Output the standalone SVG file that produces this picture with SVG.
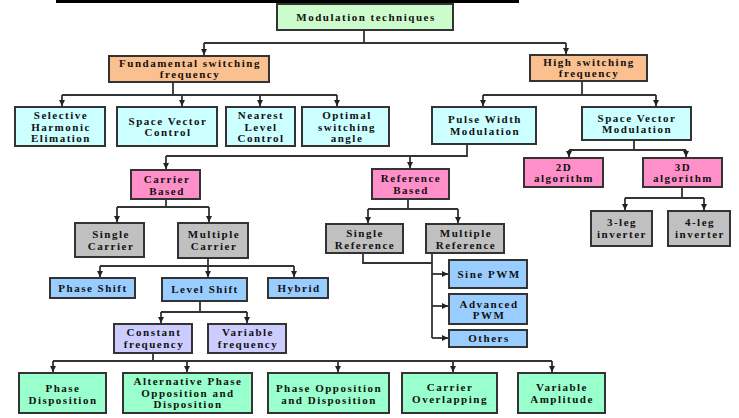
<svg xmlns="http://www.w3.org/2000/svg" width="739" height="418" viewBox="0 0 739 418">
<defs>
<marker id="ah" markerUnits="userSpaceOnUse" markerWidth="7" markerHeight="7" refX="6" refY="3" orient="auto">
<path d="M0,0 L6,3 L0,6 z" fill="#222"/>
</marker>
<style>
.b{stroke:#333;stroke-width:2}
.g{fill:#ccfccc}.o{fill:#fac090}.c{fill:#ccffff}.p{fill:#ff8fc8}.s{fill:#c0c0c0}.l{fill:#99ccff}.v{fill:#ccccff}.m{fill:#99ffcc}
text{font-family:"Liberation Serif","Times New Roman",serif;font-weight:bold;font-size:11px;letter-spacing:1.5px;text-anchor:middle;fill:#111}
.k path{fill:none;stroke:#333;stroke-width:1.8}
.k .a{marker-end:url(#ah)}
</style>
</defs>
<rect width="739" height="418" fill="#fff"/>
<rect x="56" y="0" width="463" height="3" fill="#000"/>
<g class="k" id="connectors">
<path d="M364,30 V43 M204,43 H566"/>
<path class="a" d="M204,43 V55"/><path class="a" d="M566,43 V54"/>
<path d="M173,82 V95 M62,95 H337"/>
<path class="a" d="M62,95 V106"/><path class="a" d="M182,95 V106"/><path class="a" d="M260,95 V106"/><path class="a" d="M337,95 V106"/>
<path d="M582,81 V95 M483,95 H656"/>
<path class="a" d="M483,95 V106"/><path class="a" d="M656,95 V106"/>
<path d="M467,144 V156 H166"/>
<path class="a" d="M166,156 V169"/><path class="a" d="M410,156 V168"/>
<path d="M634,140 V150 M569,150 H686"/>
<path class="a" d="M569,150 V157"/><path class="a" d="M686,150 V157"/>
<path d="M166,199 V207 M117,207 H209"/>
<path class="a" d="M117,207 V222"/><path class="a" d="M209,207 V222"/>
<path d="M408,199 V209 M368,209 H458"/>
<path class="a" d="M368,209 V223"/><path class="a" d="M458,209 V223"/>
<path d="M682,187 V198 M625,198 H704"/>
<path class="a" d="M625,198 V210"/><path class="a" d="M704,198 V210"/>
<path d="M208,258 V266 M100,266 H294"/>
<path class="a" d="M100,266 V277"/><path class="a" d="M208,266 V277"/><path class="a" d="M294,266 V277"/>
<path d="M363,253 V263 H432 M432,253 V338"/>
<path class="a" d="M432,274 H448"/><path class="a" d="M432,306 H448"/><path class="a" d="M432,338 H448"/>
<path d="M200,301 V312 M161,312 H247"/>
<path class="a" d="M161,312 V323"/><path class="a" d="M247,312 V323"/>
<path d="M153,353 V361 M53,361 H552"/>
<path class="a" d="M53,361 V372"/><path class="a" d="M187,361 V372"/><path class="a" d="M338,361 V372"/><path class="a" d="M453,361 V372"/><path class="a" d="M552,361 V372"/>
</g>
<g id="n-top"><rect class="b g" x="277" y="4" width="176" height="26"/><text x="366" y="21">Modulation techniques</text></g>
<g id="n-fund"><rect class="b o" x="109" y="56" width="160" height="26"/><text x="190" y="67">Fundamental switching</text><text x="190" y="78">frequency</text></g>
<g id="n-high"><rect class="b o" x="530" y="55" width="117" height="26"/><text x="589" y="66">High switching</text><text x="589" y="77">frequency</text></g>
<g id="n-she"><rect class="b c" x="15" y="107" width="90" height="39"/><text x="61" y="119">Selective</text><text x="61" y="131">Harmonic</text><text x="61" y="142">Elimation</text></g>
<g id="n-svc"><rect class="b c" x="117" y="107" width="100" height="39"/><text x="168" y="125">Space Vector</text><text x="168" y="136">Control</text></g>
<g id="n-nlc"><rect class="b c" x="226" y="107" width="69" height="39"/><text x="261" y="119">Nearest</text><text x="261" y="131">Level</text><text x="261" y="142">Control</text></g>
<g id="n-osa"><rect class="b c" x="302" y="107" width="87" height="39"/><text x="347" y="119">Optimal</text><text x="347" y="131">switching</text><text x="347" y="142">angle</text></g>
<g id="n-pwm"><rect class="b c" x="432" y="107" width="104" height="37"/><text x="485" y="123">Pulse Width</text><text x="485" y="135">Modulation</text></g>
<g id="n-svm"><rect class="b c" x="582" y="107" width="109" height="33"/><text x="637" y="122">Space Vector</text><text x="637" y="133">Modulation</text></g>
<g id="n-cb"><rect class="b p" x="131" y="170" width="69" height="29"/><text x="167" y="183">Carrier</text><text x="167" y="195">Based</text></g>
<g id="n-rb"><rect class="b p" x="372" y="169" width="77" height="30"/><text x="411" y="182">Reference</text><text x="411" y="194">Based</text></g>
<g id="n-2d"><rect class="b p" x="524" y="158" width="79" height="29"/><text x="564" y="171">2D</text><text x="564" y="182">algorithm</text></g>
<g id="n-3d"><rect class="b p" x="643" y="158" width="79" height="29"/><text x="683" y="171">3D</text><text x="683" y="182">algorithm</text></g>
<g id="n-3leg"><rect class="b s" x="591" y="211" width="61" height="35"/><text x="622" y="226">3-leg</text><text x="622" y="238">inverter</text></g>
<g id="n-4leg"><rect class="b s" x="668" y="211" width="62" height="35"/><text x="700" y="226">4-leg</text><text x="700" y="238">inverter</text></g>
<g id="n-sc"><rect class="b s" x="75" y="223" width="69" height="34"/><text x="111" y="238">Single</text><text x="111" y="250">Carrier</text></g>
<g id="n-mc"><rect class="b s" x="178" y="223" width="70" height="35"/><text x="214" y="238">Multiple</text><text x="214" y="250">Carrier</text></g>
<g id="n-sr"><rect class="b s" x="326" y="224" width="77" height="29"/><text x="365" y="237">Single</text><text x="365" y="249">Reference</text></g>
<g id="n-mr"><rect class="b s" x="426" y="224" width="78" height="29"/><text x="466" y="237">Multiple</text><text x="466" y="249">Reference</text></g>
<g id="n-ps"><rect class="b l" x="50" y="278" width="85" height="20"/><text x="93" y="292">Phase Shift</text></g>
<g id="n-ls"><rect class="b l" x="162" y="278" width="85" height="23"/><text x="205" y="293">Level Shift</text></g>
<g id="n-hy"><rect class="b l" x="268" y="278" width="60" height="20"/><text x="299" y="292">Hybrid</text></g>
<g id="n-spwm"><rect class="b l" x="449" y="260" width="78" height="28"/><text x="489" y="278">Sine PWM</text></g>
<g id="n-apwm"><rect class="b l" x="449" y="294" width="78" height="30"/><text x="489" y="308">Advanced</text><text x="489" y="319">PWM</text></g>
<g id="n-oth"><rect class="b l" x="449" y="330" width="78" height="17"/><text x="489" y="342">Others</text></g>
<g id="n-cf"><rect class="b v" x="114" y="324" width="78" height="29"/><text x="154" y="336">Constant</text><text x="154" y="348">frequency</text></g>
<g id="n-vf"><rect class="b v" x="208" y="324" width="78" height="29"/><text x="248" y="336">Variable</text><text x="248" y="348">frequency</text></g>
<g id="n-pd"><rect class="b m" x="19" y="373" width="87" height="40"/><text x="63" y="392">Phase</text><text x="63" y="404">Disposition</text></g>
<g id="n-apod"><rect class="b m" x="123" y="373" width="129" height="40"/><text x="188" y="385">Alternative Phase</text><text x="188" y="397">Opposition and</text><text x="188" y="408">Disposition</text></g>
<g id="n-pod"><rect class="b m" x="268" y="373" width="121" height="40"/><text x="329" y="392">Phase Opposition</text><text x="329" y="404">and Disposition</text></g>
<g id="n-co"><rect class="b m" x="402" y="373" width="95" height="40"/><text x="450" y="391">Carrier</text><text x="450" y="403">Overlapping</text></g>
<g id="n-va"><rect class="b m" x="518" y="373" width="87" height="40"/><text x="562" y="391">Variable</text><text x="562" y="403">Amplitude</text></g>
</svg>
